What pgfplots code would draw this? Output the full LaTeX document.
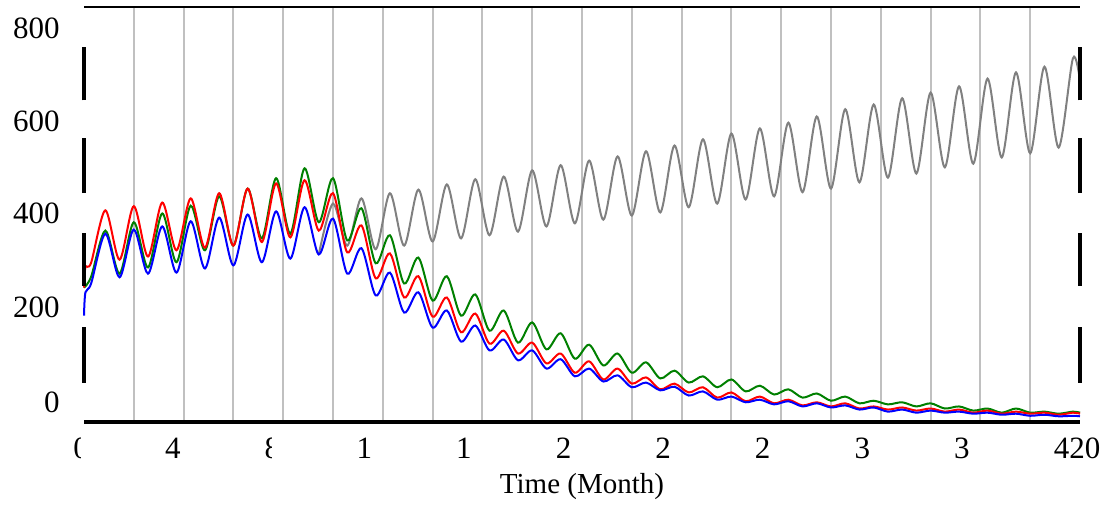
\documentclass[border=0pt]{standalone}
\usepackage{fontspec}
\setmainfont{Liberation Serif}
\usepackage{pgfplots}
\pgfplotsset{compat=1.18}

\definecolor{vgreen}{RGB}{0,128,0}
\definecolor{vgray}{RGB}{128,128,128}
\definecolor{gridgray}{RGB}{192,192,192}

% left half of a glyph (the chart's tick labels are cut off): white over the right half
\newcommand\lefthalf[1]{#1\llap{\color{white}\rule[-0.2em]{0.25em}{1em}}}

\begin{document}
\begin{tikzpicture}
\begin{axis}[
  scale only axis, width=498pt, height=207.5pt,
  xmin=0, xmax=420, ymin=0, ymax=800,
  axis line style={draw=none},
  clip=false,
  xtick={0,42,...,420},
  minor xtick={21,42,...,399},
  xminorgrids,
  minor grid style={gridgray, line width=1pt},
  major tick length=0pt, minor tick length=0pt,
  xticklabels={\lefthalf{0}, 4\phantom{2}, \lefthalf{8}\phantom{4}, 1\phantom{26}, 1\phantom{68},
    2\phantom{10}, 2\phantom{52}, 2\phantom{94}, 3\phantom{36}, 3\phantom{78}, 420},
  ytick={37.6,220.6,401.6,580.3,759.6},
  yticklabels={0,200,400,600,800},
  tick label style={font=\fontsize{15.5}{18}\selectfont, inner sep=0pt},
  xticklabel style={anchor=base, yshift=-18pt, xshift=-1.5pt},
  yticklabel style={anchor=east, xshift=-12pt},
  xlabel={Time (Month)},
  xlabel style={font=\fontsize{14.5}{17}\selectfont, at={(rel axis cs:0.5,0)},
    anchor=base, yshift=-35.5pt, inner sep=0pt},
  every axis plot/.append style={line width=1pt, smooth},
]
\addplot[vgray] coordinates {
(99,323) (105,421) (111,340) (117,431) (123,333) (129,441) (135,340) (141,448) (147,348) (153,458)
(159,354) (165,468) (171,360) (177,473) (183,367) (189,485) (195,377) (201,495) (207,383) (213,504)
(219,390) (225,512) (231,398) (237,522) (243,404) (249,533) (255,414) (261,545) (267,421) (273,556)
(279,429) (285,566) (291,435) (297,577) (303,443) (309,589) (315,450) (321,603) (327,462) (333,612)
(339,471) (345,624) (351,479) (357,635) (363,491) (369,647) (375,498) (381,662) (387,510) (393,674)
(399,518) (405,685) (411,529) (417,701) (420,658)};
\addplot[vgreen] coordinates {
(0,259) (3,280) (9,369) (15,286) (21,385) (27,298) (33,402) (39,308) (45,417) (51,331)
(57,435) (63,340) (69,450) (75,354) (81,470) (87,363) (93,489) (99,385) (105,470) (111,350)
(117,412) (123,306) (129,360) (135,267) (141,317) (147,234) (153,281) (159,205) (165,246) (171,176)
(177,215) (183,153) (189,192) (195,140) (201,171) (207,122) (213,149) (219,109) (225,132) (231,95)
(237,115) (243,84) (249,99) (255,76) (261,88) (267,67) (273,82) (279,59) (285,70) (291,53)
(297,63) (303,47) (309,55) (315,41) (321,49) (327,36) (333,41) (339,34) (345,38) (351,30)
(357,36) (363,26) (369,30) (375,22) (381,26) (387,18) (393,26) (399,18) (405,20) (411,16)
(417,20) (420,18)};
\addplot[red] coordinates {
(0,259) (0.6,298) (3,307) (9,408) (15,313) (21,416) (27,319) (33,423) (39,331) (45,431)
(51,336) (57,441) (63,340) (69,450) (75,347) (81,460) (87,356) (93,466) (99,369) (105,441)
(111,327) (117,379) (123,277) (129,325) (135,240) (141,281) (147,203) (153,240) (159,173) (165,209)
(171,151) (177,176) (183,132) (189,153) (195,113) (201,132) (207,95) (213,117) (219,82) (225,103)
(231,74) (237,86) (243,63) (249,74) (255,57) (261,67) (267,47) (273,57) (279,40) (285,49)
(291,36) (297,43) (303,32) (309,38) (315,30) (321,36) (327,26) (333,30) (339,24) (345,28)
(351,22) (357,26) (363,20) (369,24) (375,18) (381,22) (387,16) (393,20) (399,16) (405,18)
(411,14) (417,18) (420,16)};
\addplot[blue] coordinates {
(0,205) (0.6,250) (3,267) (9,363) (15,279) (21,371) (27,286) (33,377) (39,288) (45,387)
(51,296) (57,394) (63,302) (69,400) (75,308) (81,406) (87,315) (93,414) (99,323) (105,392)
(111,286) (117,335) (123,244) (129,288) (135,211) (141,250) (147,182) (153,215) (159,155) (165,186)
(171,138) (177,159) (183,119) (189,138) (195,103) (201,121) (207,88) (213,103) (219,78) (225,90)
(231,67) (237,76) (243,61) (249,68) (255,51) (261,59) (267,43) (273,49) (279,38) (285,43)
(291,34) (297,40) (303,30) (309,36) (315,28) (321,32) (327,24) (333,28) (339,20) (345,24)
(351,18) (357,22) (363,18) (369,20) (375,16) (381,18) (387,14) (393,16) (399,12) (405,14)
(411,11) (417,12) (420,11)};
% frame: thin top line, thick bottom line, broken side lines
\draw[line width=1pt] (rel axis cs:0,1) -- (rel axis cs:1,1);
\draw[line width=2pt] (rel axis cs:0,0) -- (rel axis cs:1,0);
\draw[line width=2pt] (axis cs:0,76) -- (axis cs:0,184);
\draw[line width=2pt] (axis cs:0,263) -- (axis cs:0,365);
\draw[line width=2pt] (axis cs:0,441) -- (axis cs:0,547);
\draw[line width=2pt] (axis cs:0,620) -- (axis cs:0,722);
\draw[line width=2pt] (axis cs:420,76) -- (axis cs:420,184);
\draw[line width=2pt] (axis cs:420,263) -- (axis cs:420,365);
\draw[line width=2pt] (axis cs:420,441) -- (axis cs:420,547);
\draw[line width=2pt] (axis cs:420,620) -- (axis cs:420,722);
\coordinate (ll) at (rel axis cs:0,0);
\coordinate (ur) at (rel axis cs:1,1);
\end{axis}
\pgfresetboundingbox
\path[use as bounding box] ([shift={(-42pt,-43pt)}]ll) rectangle ([shift={(14.5pt,3.5pt)}]ur);
\end{tikzpicture}
\end{document}
